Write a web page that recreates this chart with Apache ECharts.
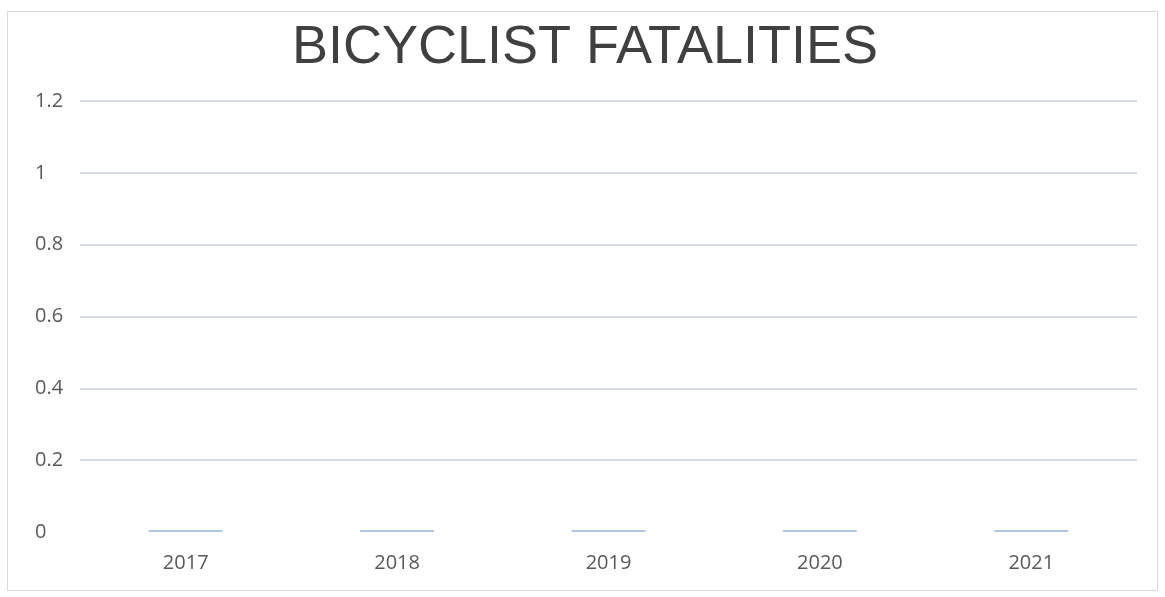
<!DOCTYPE html>
<html>
<head>
<meta charset="utf-8">
<style>
  html, body { margin: 0; padding: 0; background: #fff; }
  #frame { position: absolute; left: 7px; top: 11px; width: 1151px; height: 580px; border: 1px solid #d6dbe2; box-sizing: border-box; }
  #chart { position: absolute; left: 0; top: 0; width: 1165px; height: 597px; }
</style>
<script src="https://cdn.jsdelivr.net/npm/echarts@6/dist/echarts.min.js"></script>
</head>
<body>
<div id="frame"></div>
<div id="chart"></div>
<script>
// categories and values
const years = ['2017', '2018', '2019', '2020', '2021']
const fatalities = [0, 0, 0, 0, 0]
const yTicks = { min: 0, max: 1.2, interval: 0.2 }

const chart = echarts.init(document.getElementById('chart'))

const option = {
  animation: false,
  title: {
    text: 'BICYCLIST FATALITIES',
    left: 580,
    top: 16,
    textAlign: 'center',
    textStyle: {
      fontFamily: 'Liberation Sans',
      fontSize: 54,
      fontWeight: 'normal',
      color: '#404040'
    }
  },
  grid: {
    left: 80,
    right: 28,
    top: 101,
    bottom: 65
  },
  xAxis: {
    type: 'category',
    data: years,
    axisLine: { show: false },
    axisTick: { show: false },
    axisLabel: {
      margin: 21,
      fontFamily: 'Open Sans',
      fontSize: 20,
      color: '#595959'
    }
  },
  yAxis: {
    type: 'value',
    min: yTicks.min,
    max: yTicks.max,
    interval: yTicks.interval,
    axisLine: { show: false },
    axisTick: { show: false },
    axisLabel: {
      align: 'left',
      margin: 45,
      padding: [7, 0, 0, 0],
      fontFamily: 'Open Sans',
      fontSize: 20,
      color: '#595959'
    },
    splitLine: {
      showMinLine: false,
      lineStyle: { color: '#c9d1dc', width: 1.5 }
    }
  },
  series: [
    {
      type: 'bar',
      data: fatalities,
      barWidth: '35%',
      barMinHeight: 2,
      itemStyle: { color: '#b4c6de' }
    }
  ]
}

chart.setOption(option)
</script>
</body>
</html>
